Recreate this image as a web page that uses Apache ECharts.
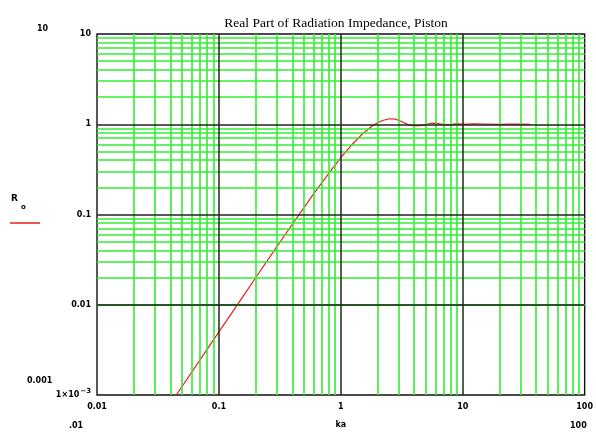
<!DOCTYPE html>
<html>
<head>
<meta charset="utf-8">
<script src="https://cdn.jsdelivr.net/npm/echarts@6/dist/echarts.min.js"></script>
<style>html,body{margin:0;padding:0;background:#fff;}#c{width:596px;height:434px;}</style>
</head>
<body>
<div id="c"></div>
<script>
var titleText = 'Real Part of Radiation Impedance, Piston';
var kaValues = [0.03, 0.04, 0.05, 0.07, 0.1, 0.15, 0.2, 0.3, 0.4, 0.5, 0.6, 0.7, 0.8, 1.0, 1.2, 1.5, 1.8, 2.0, 2.2, 2.5, 2.8, 3.0, 3.3, 3.6, 4.0, 4.5, 5, 5.5, 6, 7, 8, 9, 10, 12, 15, 20, 25, 30, 36];
var rValues = [0.00045, 0.0008, 0.00125, 0.00245, 0.005, 0.0112, 0.0199, 0.0443, 0.078, 0.12, 0.17, 0.226, 0.288, 0.428, 0.57, 0.78, 0.95, 1.04, 1.1, 1.15, 1.14, 1.1, 1.04, 0.985, 0.96, 0.965, 0.99, 1.025, 1.03, 0.99, 0.99, 1.015, 0.997, 1.01, 1.006, 0.997, 1.003, 1.002, 1.0];
var xTickLabels = ['0.01', '0.1', '1', '10', '100'];
var yTickLabels = ['0.001', '0.01', '0.1', '1', '10'];
var xMajor = [0.1, 1, 10];
var yMajor = [0.01, 0.1, 1];
var xDecades = [0.01, 0.1, 1, 10];
var yDecades = [0.001, 0.01, 0.1, 1];
var minorMult = [2, 3, 4, 5, 6, 7, 8, 9];

var minorLines = [];
xDecades.forEach(function (d) { minorMult.forEach(function (m) { minorLines.push({ xAxis: +(d * m).toPrecision(3) }); }); });
yDecades.forEach(function (d) { minorMult.forEach(function (m) { minorLines.push({ yAxis: +(d * m).toPrecision(3) }); }); });
var majorLines = [];
xMajor.forEach(function (v) { majorLines.push({ xAxis: v }); });
yMajor.forEach(function (v) { majorLines.push({ yAxis: v }); });

var curve = kaValues.map(function (k, i) { return [k, rValues[i]]; });

var chart = echarts.init(document.getElementById('c'));
chart.setOption({
  animation: false,
  backgroundColor: '#fff',
  title: {
    text: titleText, left: 331, top: 11, textAlign: 'center',
    textStyle: { fontFamily: 'Liberation Serif', fontWeight: 'normal', fontSize: 13.5, color: '#000' }
  },
  grid: { left: 97, top: 34, right: 8, bottom: 36, show: true, borderColor: '#111', borderWidth: 1.4, backgroundColor: 'transparent' },
  xAxis: {
    type: 'log', logBase: 10, min: 0.01, max: 100,
    axisLine: { show: false }, axisTick: { show: false }, splitLine: { show: false },
    axisLabel: {
      margin: 8, fontFamily: 'DejaVu Sans', fontWeight: 'bold', fontSize: 8, color: '#000',
      formatter: function (v) { var i = Math.round(Math.log10(v)) + 2; return xTickLabels[i] || ''; }
    },
    name: 'ka', nameLocation: 'middle', nameGap: 26,
    nameTextStyle: { fontFamily: 'DejaVu Sans', fontWeight: 'bold', fontSize: 8, color: '#000' }
  },
  yAxis: {
    type: 'log', logBase: 10, min: 0.001, max: 10,
    axisLine: { show: false }, axisTick: { show: false }, splitLine: { show: false },
    axisLabel: {
      margin: 6, color: '#000',
      formatter: function (v) {
        var i = Math.round(Math.log10(v)) + 3;
        if (i === 0) return '{b|1\u00d710}{s|\u22123}';
        return '{b|' + yTickLabels[i] + '}';
      },
      rich: {
        b: { fontFamily: 'DejaVu Sans', fontWeight: 'bold', fontSize: 8, color: '#000' },
        s: { fontFamily: 'DejaVu Sans', fontWeight: 'bold', fontSize: 7, color: '#000', verticalAlign: 'top', padding: [0, 0, 8, 1] }
      }
    }
  },
  graphic: [
    { type: 'text', left: 37, top: 25, style: { text: '10', font: 'bold 8px DejaVu Sans', fill: '#000' } },
    { type: 'text', left: 27, top: 377, style: { text: '0.001', font: 'bold 8px DejaVu Sans', fill: '#000' } },
    { type: 'text', left: 69, top: 422, style: { text: '.01', font: 'bold 8px DejaVu Sans', fill: '#000' } },
    { type: 'text', left: 570, top: 422, style: { text: '100', font: 'bold 8px DejaVu Sans', fill: '#000' } },
    { type: 'text', left: 11, top: 194, style: { text: 'R', font: 'bold 9px DejaVu Sans', fill: '#000' } },
    { type: 'text', left: 21, top: 204, style: { text: 'o', font: 'bold 7px DejaVu Sans', fill: '#000' } },
    { type: 'line', shape: { x1: 10, y1: 223, x2: 40, y2: 223 }, style: { stroke: '#e8201a', lineWidth: 1.5 } }
  ],
  series: [
    {
      type: 'line', data: [], silent: true, z: 1,
      markLine: { silent: true, symbol: 'none', label: { show: false }, animation: false,
        lineStyle: { color: '#33ee33', width: 1.6, type: 'solid', opacity: 1 }, data: minorLines }
    },
    {
      type: 'line', data: [], silent: true, z: 2,
      markLine: { silent: true, symbol: 'none', label: { show: false }, animation: false,
        lineStyle: { color: '#222', width: 1.5, type: 'solid', opacity: 1 }, data: majorLines }
    },
    {
      type: 'line', data: curve, z: 3, showSymbol: false, smooth: false, clip: true,
      lineStyle: { color: '#e8201a', width: 1.2 }
    }
  ]
});
</script>
</body>
</html>
